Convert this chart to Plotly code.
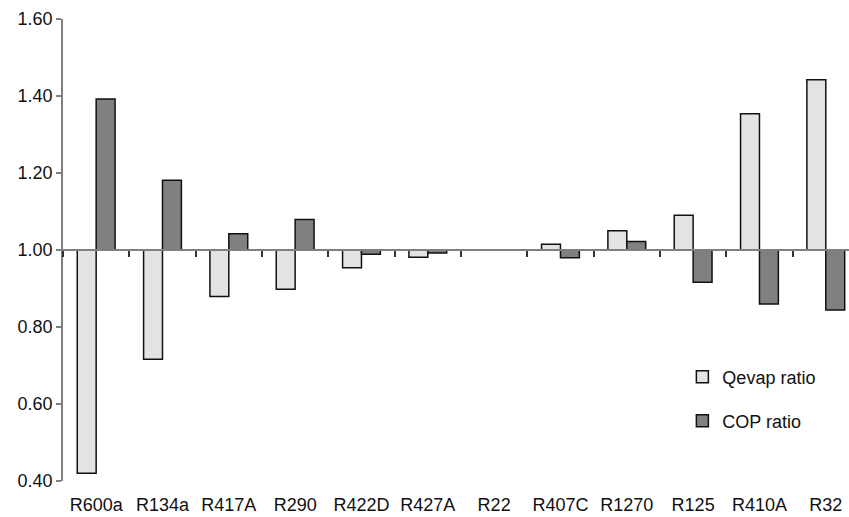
import plotly.graph_objects as go

categories = ["R600a", "R134a", "R417A", "R290", "R422D", "R427A", "R22",
              "R407C", "R1270", "R125", "R410A", "R32"]
qevap_ratio = [0.42, 0.716, 0.879, 0.898, 0.954, 0.981, 1.0,
               1.015, 1.05, 1.09, 1.354, 1.442]
cop_ratio = [1.392, 1.181, 1.042, 1.079, 0.989, 0.992, 1.0,
             0.980, 1.022, 0.916, 0.860, 0.844]
y_ticks = [0.40, 0.60, 0.80, 1.00, 1.20, 1.40, 1.60]
baseline = 1.0

FONT = "Liberation Sans, Arial, sans-serif"
FS = 18

fig = go.Figure()
fig.add_trace(go.Bar(
    x=categories, y=[v - baseline for v in qevap_ratio], base=baseline,
    name="Qevap ratio", marker=dict(color="#E3E3E3", line=dict(color="#111111", width=1.5)),
    legend="legend",
))
fig.add_trace(go.Bar(
    x=categories, y=[v - baseline for v in cop_ratio], base=baseline,
    name="COP ratio", marker=dict(color="#808080", line=dict(color="#111111", width=1.5)),
    legend="legend2",
))

fig.update_layout(
    width=849, height=517,
    margin=dict(l=63, r=0, t=19, b=36),
    paper_bgcolor="white", plot_bgcolor="white",
    barmode="group", bargap=0.43, bargroupgap=0,
    font=dict(family=FONT, size=FS, color="#111111"),
    xaxis=dict(
        type="category", range=[-0.5, 11.35],
        showline=False, ticks="", showgrid=False, zeroline=False,
        ticklabelstandoff=11,
        tickfont=dict(family=FONT, size=FS, color="#111111"),
    ),
    xaxis2=dict(
        type="category", matches="x", overlaying="x", anchor="free", position=0.5,
        showline=True, linecolor="#808080", linewidth=1.5,
        ticks="outside", tickson="boundaries", ticklen=6, tickcolor="#333333", tickwidth=1.5,
        showticklabels=False, showgrid=False, zeroline=False,
    ),
    yaxis=dict(
        range=[0.4, 1.6], tickvals=y_ticks, ticktext=[f"{v:.2f}" for v in y_ticks],
        showline=True, linecolor="#808080", linewidth=1.5,
        ticks="outside", ticklen=5, tickcolor="#808080", tickwidth=1.5,
        showgrid=False, zeroline=False,
        tickfont=dict(family=FONT, size=FS, color="#111111"),
    ),
    legend=dict(x=0.788, y=0.2251, xanchor="left", yanchor="middle",
                bgcolor="rgba(0,0,0,0)", font=dict(family=FONT, size=FS, color="#111111")),
    legend2=dict(x=0.788, y=0.1299, xanchor="left", yanchor="middle",
                 bgcolor="rgba(0,0,0,0)", font=dict(family=FONT, size=FS, color="#111111")),
    showlegend=True,
)
# invisible trace to realize the overlay axis at y = 1.0
fig.add_trace(go.Bar(x=categories, y=[0] * len(categories), base=baseline, xaxis="x2",
                     showlegend=False, hoverinfo="skip", marker=dict(color="rgba(0,0,0,0)")))

fig.write_html("out.html", config={"displayModeBar": False},
               post_script="document.body.style.margin='0';document.body.style.overflow='hidden';")
